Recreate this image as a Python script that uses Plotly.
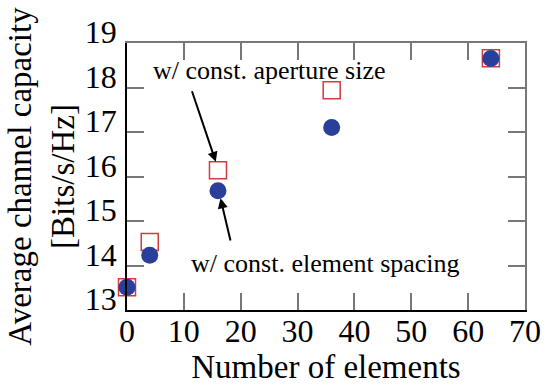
import plotly.graph_objects as go

elements = [0, 4, 16, 36, 64]
const_spacing = [13.51, 14.23, 15.68, 17.10, 18.65]
const_aperture = [13.51, 14.53, 16.14, 17.94, 18.66]
x_ticks = [0, 10, 20, 30, 40, 50, 60, 70]
y_ticks = [13, 14, 15, 16, 17, 18, 19]

FONT = "Liberation Serif"

fig = go.Figure()
fig.add_trace(go.Scatter(
    x=elements, y=const_aperture, mode="markers",
    marker=dict(symbol="square-open", size=17, color="#d23a3e", line=dict(width=1.5, color="#d23a3e")),
    showlegend=False, cliponaxis=False))
fig.add_trace(go.Scatter(
    x=elements, y=const_spacing, mode="markers",
    marker=dict(symbol="circle", size=17, color="#2a3f9a"),
    showlegend=False, cliponaxis=False))

fig.add_annotation(x=25, y=18.39, text="w/ const. aperture size", showarrow=False,
                   font=dict(family=FONT, size=26, color="black"))
fig.add_annotation(x=34.9, y=14.05, text="w/ const. element spacing", showarrow=False,
                   font=dict(family=FONT, size=26, color="black"))
fig.add_annotation(x=15.62, y=16.33, ax=11.34, ay=17.95, axref="x", ayref="y",
                   showarrow=True, arrowhead=2, arrowsize=1, arrowwidth=2, arrowcolor="black", text="")
fig.add_annotation(x=16.44, y=15.51, ax=18.26, ay=14.53, axref="x", ayref="y",
                   showarrow=True, arrowhead=2, arrowsize=1, arrowwidth=2, arrowcolor="black", text="")

axis_common = dict(showgrid=False, zeroline=False, ticks="inside", ticklen=17, tickwidth=1.5,
                   tickcolor="#777777", showline=True, linewidth=1.5, automargin=False)

fig.update_layout(
    width=550, height=385,
    margin=dict(l=127, r=25, t=43, b=75),
    plot_bgcolor="white", paper_bgcolor="white",
    font=dict(family=FONT, size=32, color="black"),
    xaxis=dict(range=[0, 70], tickvals=x_ticks, ticktext=[str(v) for v in x_ticks],
               linecolor="black", ticklabelstandoff=-8,
               title=dict(text="Number of elements", font=dict(family=FONT, size=33, color="black"), standoff=0),
               tickfont=dict(family=FONT, size=32, color="black"), **axis_common),
    yaxis=dict(range=[13, 19], tickvals=y_ticks, ticktext=[str(v) for v in y_ticks],
               linecolor="black", ticklabelshift=-11, ticklabelstandoff=2,
               title=dict(text="Average channel capacity<br>[Bits/s/Hz]",
                          font=dict(family=FONT, size=33, color="black"), standoff=0),
               tickfont=dict(family=FONT, size=32, color="black"), **axis_common),
    xaxis2=dict(range=[0, 70], tickvals=x_ticks, overlaying="x", side="top", showticklabels=False,
                linecolor="#777777", **axis_common),
    yaxis2=dict(range=[13, 19], tickvals=y_ticks, overlaying="y", side="right", showticklabels=False,
                linecolor="#777777", **axis_common),
)
fig.add_trace(go.Scatter(x=[None], y=[None], xaxis="x2", yaxis="y2", showlegend=False, hoverinfo="skip"))

fig.write_html("out.html")
